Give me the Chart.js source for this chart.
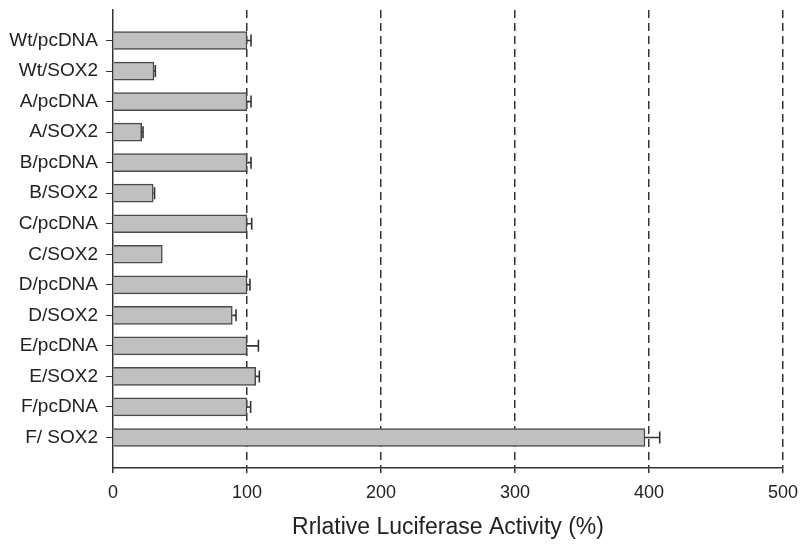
<!DOCTYPE html>
<html lang="en">
<head>
    <meta charset="UTF-8">
    <title>Relative Luciferase Activity</title>
    <script src="https://cdn.jsdelivr.net/npm/chart.js@4"></script>
    <style>
        html, body { margin: 0; padding: 0; background: #fff; }
        .wrap { width: 801px; height: 545px; }
    </style>
</head>
<body>
    <div class="wrap"><canvas id="lucChart" width="801" height="545"></canvas></div>
    <script>
        const labels = ['Wt/pcDNA', 'Wt/SOX2', 'A/pcDNA', 'A/SOX2', 'B/pcDNA', 'B/SOX2', 'C/pcDNA',
                        'C/SOX2', 'D/pcDNA', 'D/SOX2', 'E/pcDNA', 'E/SOX2', 'F/pcDNA', 'F/ SOX2'];
        const activity = [100, 30.6, 100, 21.4, 100, 30, 100, 36.8, 100, 89, 100, 106.5, 100, 397];
        const errors = [3, 1, 3, 1, 3, 1, 3.5, 0, 2.2, 2.8, 8.5, 2.7, 2.7, 11];
        const xTicks = [0, 100, 200, 300, 400, 500];

        // positive-only error bars with a cap
        const errorBars = {
            id: 'errorBars',
            afterDatasetsDraw(chart) {
                const xs = chart.scales.x, ys = chart.scales.y, ctx = chart.ctx;
                ctx.save();
                ctx.strokeStyle = '#333';
                ctx.lineWidth = 1.6;
                activity.forEach((v, i) => {
                    if (!errors[i]) return;
                    const x0 = xs.getPixelForValue(v);
                    const x1 = xs.getPixelForValue(v + errors[i]);
                    const y = ys.getPixelForValue(i + 1);
                    ctx.beginPath();
                    ctx.moveTo(x0, y);
                    ctx.lineTo(x1, y);
                    ctx.moveTo(x1, y - 6);
                    ctx.lineTo(x1, y + 6);
                    ctx.stroke();
                });
                ctx.restore();
            }
        };

        new Chart(document.getElementById('lucChart'), {
            type: 'bar',
            data: {
                datasets: [{
                    data: activity.map((v, i) => ({ x: v, y: i + 1 })),
                    backgroundColor: '#c0c0c0',
                    borderColor: '#4a4a4a',
                    borderWidth: 1.5,
                    barThickness: 18
                }]
            },
            options: {
                indexAxis: 'y',
                responsive: false,
                animation: false,
                layout: { padding: { top: 10, right: 18, left: 0, bottom: 0 } },
                plugins: { legend: { display: false }, tooltip: { enabled: false } },
                scales: {
                    x: {
                        type: 'linear',
                        min: 0,
                        max: 500,
                        z: 1,
                        afterBuildTicks: s => { s.ticks = xTicks.map(v => ({ value: v })); },
                        afterFit: s => { s.height = 77; s.paddingLeft = 0; s.paddingRight = 0; },
                        border: { display: true, color: '#333', width: 1.5, dash: [8, 5] },
                        grid: {
                            color: ctx => ctx.tick && ctx.tick.value === 0 ? 'rgba(0,0,0,0)' : '#333',
                            lineWidth: 1.5,
                            tickColor: '#333',
                            tickLength: 5,
                            tickBorderDash: []
                        },
                        ticks: {
                            color: '#222',
                            font: { family: 'Liberation Sans', size: 18 },
                            padding: 9,
                            maxRotation: 0
                        },
                        title: {
                            display: true,
                            text: 'Rrlative Luciferase Activity (%)',
                            color: '#222',
                            font: { family: 'Liberation Sans', size: 23 },
                            padding: { top: 5 }
                        }
                    },
                    y: {
                        type: 'linear',
                        min: 0,
                        max: 15,
                        reverse: true,
                        offset: false,
                        afterBuildTicks: s => { s.ticks = labels.map((_, i) => ({ value: i + 1 })); },
                        afterFit: s => { s.width = 113; s.paddingTop = 0; s.paddingBottom = 0; },
                        border: { display: true, color: '#333', width: 1.5 },
                        grid: {
                            offset: false,
                            drawOnChartArea: false,
                            tickColor: '#333',
                            tickLength: 7
                        },
                        ticks: {
                            color: '#222',
                            font: { family: 'Liberation Sans', size: 19 },
                            padding: 8,
                            callback: v => labels[v - 1]
                        }
                    }
                }
            },
            plugins: [errorBars]
        });
    </script>
</body>
</html>
